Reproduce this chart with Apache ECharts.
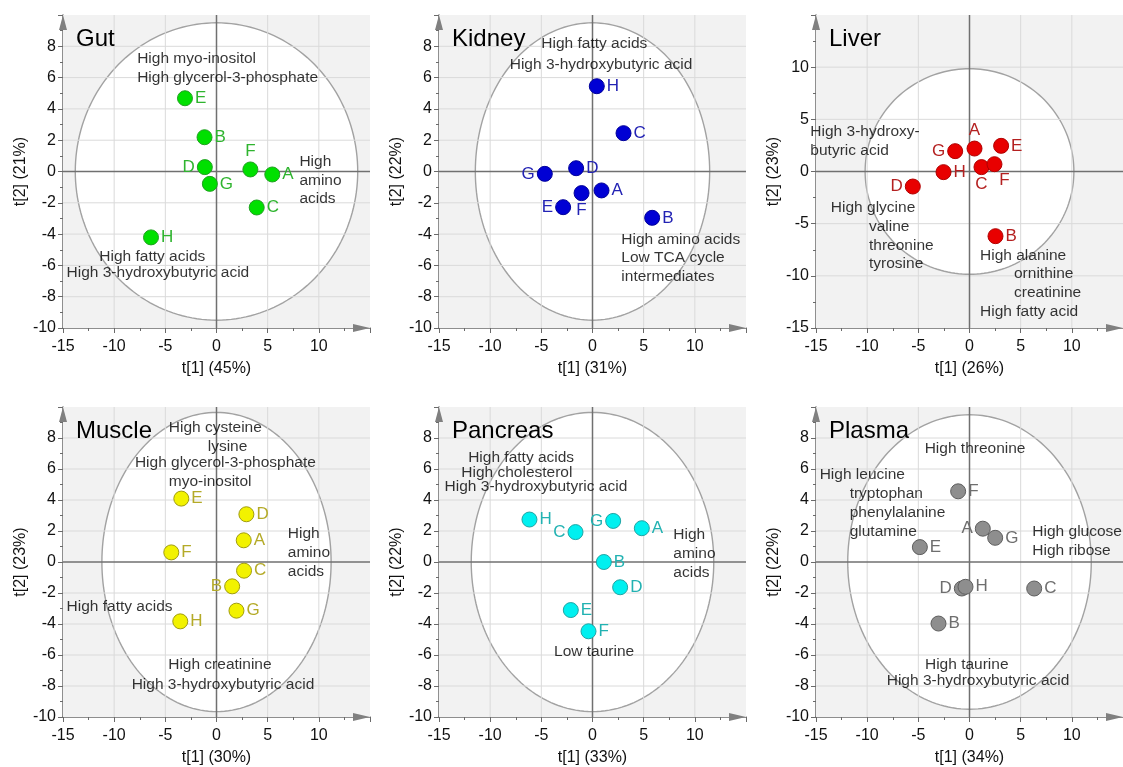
<!DOCTYPE html>
<html><head><meta charset="utf-8">
<script src="https://cdn.jsdelivr.net/npm/echarts@6/dist/echarts.min.js"></script>
<style>html,body{margin:0;padding:0;background:#fff}#c{width:1123px;height:767px}</style>
</head><body><div id="c"></div>
<script>
// ---------- DATA ----------
const panelNames = ['Gut', 'Kidney', 'Liver', 'Muscle', 'Pancreas', 'Plasma'];
const xAxisNames = ['t[1] (45%)', 't[1] (31%)', 't[1] (26%)', 't[1] (30%)', 't[1] (33%)', 't[1] (34%)'];
const yAxisNames = ['t[2] (21%)', 't[2] (22%)', 't[2] (23%)', 't[2] (23%)', 't[2] (22%)', 't[2] (22%)'];
const sampleLetters = ['A', 'B', 'C', 'D', 'E', 'F', 'G', 'H'];

const gutT1 = [5.45, -1.17, 3.93, -1.14, -3.08, 3.31, -0.65, -6.40];
const gutT2 = [-0.19, 2.19, -2.30, 0.28, 4.68, 0.13, -0.79, -4.21];
const kidneyT1 = [0.88, 5.83, 3.03, -1.60, -2.87, -1.07, -4.66, 0.42];
const kidneyT2 = [-1.21, -2.96, 2.45, 0.21, -2.28, -1.38, -0.15, 5.45];
const liverT1 = [0.49, 2.54, 1.17, -5.54, 3.09, 2.44, -1.40, -2.54];
const liverT2 = [2.20, -6.20, 0.42, -1.44, 2.46, 0.70, 1.95, -0.06];
const muscleT1 = [2.66, 1.53, 2.69, 2.92, -3.44, -4.42, 1.95, -3.54];
const muscleT2 = [1.40, -1.57, -0.56, 3.08, 4.09, 0.62, -3.14, -3.83];
const pancreasT1 = [4.82, 1.11, -1.66, 2.70, -2.12, -0.39, 2.02, -6.16];
const pancreasT2 = [2.18, 0.00, 1.93, -1.63, -3.10, -4.47, 2.65, 2.74];
const plasmaT1 = [1.30, -3.03, 6.32, -0.75, -4.85, -1.11, 2.51, -0.39];
const plasmaT2 = [2.15, -3.97, -1.71, -1.71, 0.96, 4.56, 1.56, -1.60];

// Hotelling T2 ellipse semi-axes (t1, t2)
const ellipseT1 = [13.8, 11.45, 10.2, 11.2, 11.85, 11.9];
const ellipseT2 = [9.5, 9.5, 9.85, 9.65, 9.65, 9.5];

// axis ranges / ticks
const xTickMin = [-15, -15, -15, -15, -15, -15];
const xTickMax = [15, 15, 15, 15, 15, 15];
const xTickStep = [5, 5, 5, 5, 5, 5];
const yTickMin = [-10, -10, -15, -10, -10, -10];
const yTickMax = [10, 10, 15, 10, 10, 10];
const yTickStep = [2, 2, 5, 2, 2, 2];

// annotation texts: [text, t1 anchor (left edge), t2 anchor]
const gutNotes = [['High myo-inositol', -7.8, 7.19], ['High glycerol-3-phosphate', -7.8, 5.98],
  ['High', 8.05, 0.64], ['amino', 8.05, -0.57], ['acids', 8.05, -1.77],
  ['High fatty acids', -11.5, -5.47], ['High 3-hydroxybutyric acid', -14.7, -6.47]];
const kidneyNotes = [['High fatty acids', -5.05, 8.15], ['High 3-hydroxybutyric acid', -8.14, 6.83],
  ['High amino acids', 2.77, -4.34], ['Low TCA cycle', 2.77, -5.53], ['intermediates', 2.77, -6.72]];
const liverNotes = [['High 3-hydroxy-', -15.6, 3.77], ['butyric acid', -15.6, 2.01],
  ['High glycine', -13.6, -3.48], ['valine', -9.87, -5.27], ['threonine', -9.87, -7.09], ['tyrosine', -9.87, -8.85],
  ['High alanine', 0.98, -8.05], ['ornithine', 4.3, -9.81], ['creatinine', 4.3, -11.63], ['High fatty acid', 0.98, -13.42]];
const muscleNotes = [['High cysteine', -4.71, 8.69], ['lysine', -0.91, 7.46], ['High glycerol-3-phosphate', -8.02, 6.43],
  ['myo-inositol', -4.71, 5.2], ['High', 6.92, 1.81], ['amino', 6.92, 0.62], ['acids', 6.92, -0.6],
  ['High fatty acids', -14.7, -2.86], ['High creatinine', -4.77, -6.6], ['High 3-hydroxybutyric acid', -8.34, -7.91]];
const pancreasNotes = [['High fatty acids', -12.2, 6.74], ['High cholesterol', -12.87, 5.78],
  ['High 3-hydroxybutyric acid', -14.5, 4.86], ['High', 7.85, 1.75], ['amino', 7.85, 0.53], ['acids', 7.85, -0.68],
  ['Low taurine', -3.81, -5.78]];
const plasmaNotes = [['High threonine', -4.43, 7.31], ['High leucine', -14.69, 5.61], ['tryptophan', -11.76, 4.39],
  ['phenylalanine', -11.76, 3.16], ['glutamine', -11.76, 1.98], ['High glucose', 6.09, 1.98], ['High ribose', 6.09, 0.75],
  ['High taurine', -4.4, -6.65], ['High 3-hydroxybutyric acid', -8.14, -7.68]];

// ---------- STYLE ----------
const FONT = 'Liberation Sans, Arial, sans-serif';
const fills = ['#00e000', '#0000d4', '#e80000', '#f2f200', '#00f0f0', '#8e8e8e'];
const borders = ['#20a020', '#00009a', '#b00000', '#a09c10', '#20a4a4', '#5e5e5e'];
const labelColors = ['#2fb42f', '#2323b4', '#b42020', '#b4aa28', '#22b2b2', '#6e6e6e'];
const labelSides = [
  ['r', 'r', 'r', 'l', 'r', 't', 'r', 'r'],
  ['r', 'r', 'r', 'r', 'l', 'b', 'l', 'r'],
  ['t', 'r', 'b', 'l', 'r', 'br', 'l', 'r'],
  ['r', 'l', 'r', 'r', 'r', 'r', 'r', 'r'],
  ['r', 'r', 'l', 'r', 'r', 'r', 'l', 'r'],
  ['l', 'r', 'r', 'l', 'r', 'r', 'r', 'r']
];
const gridLefts = [63, 439, 816, 63, 439, 816];
const gridTops = [15, 15, 15, 407, 407, 407];
const GW = 307, GH = 313;
const AXIS_COLOR = '#6a6a6a';

const t1Sets = [gutT1, kidneyT1, liverT1, muscleT1, pancreasT1, plasmaT1];
const t2Sets = [gutT2, kidneyT2, liverT2, muscleT2, pancreasT2, plasmaT2];
const noteSets = [gutNotes, kidneyNotes, liverNotes, muscleNotes, pancreasNotes, plasmaNotes];

function sideLabel(s) {
  switch (s) {
    case 'l': return { position: 'left', distance: 2 };
    case 't': return { position: 'top', distance: 2 };
    case 'b': return { position: 'bottom', distance: 1 };
    case 'br': return { position: 'bottom', distance: 1, offset: [10, -1] };
    default: return { position: 'right', distance: 2 };
  }
}

const grids = [], xAxes = [], yAxes = [], titles = [], series = [];
panelNames.forEach((name, i) => {
  grids.push({ left: gridLefts[i], top: gridTops[i], width: GW, height: GH, containLabel: false });
  titles.push({ text: name, left: gridLefts[i] + 8, top: gridTops[i] + 7,
    textStyle: { fontSize: 24, fontWeight: 'normal', color: '#000', fontFamily: FONT } });
  const axisCommon = {
    type: 'value',
    gridIndex: i,
    axisLine: { show: true, onZero: false, lineStyle: { color: AXIS_COLOR, width: 1.5 } },
    axisTick: { show: true, length: 5, lineStyle: { color: AXIS_COLOR, width: 1 } },
    minorTick: { show: true, splitNumber: 2, length: 3, lineStyle: { color: AXIS_COLOR, width: 1 } },
    splitLine: { show: false },
    axisLabel: { color: '#111', fontSize: 16, fontFamily: FONT, showMaxLabel: false },
    nameLocation: 'middle',
    nameTextStyle: { fontSize: 16, color: '#111', fontFamily: FONT }
  };
  xAxes.push(Object.assign({}, axisCommon, {
    min: xTickMin[i], max: xTickMax[i], interval: xTickStep[i], name: xAxisNames[i], nameGap: 33,
    axisLabel: Object.assign({}, axisCommon.axisLabel, { margin: 11 })
  }));
  yAxes.push(Object.assign({}, axisCommon, {
    min: yTickMin[i], max: yTickMax[i], interval: yTickStep[i], name: yAxisNames[i], nameGap: 27,
    axisLabel: Object.assign({}, axisCommon.axisLabel, { margin: 7 })
  }));

  // background, T2 ellipse, grid lines, zero lines
  series.push({
    type: 'custom', xAxisIndex: i, yAxisIndex: i, z: 1, silent: true,
    data: [[0, 0]],
    renderItem: function (params, api) {
      const cs = params.coordSys;
      const children = [];
      children.push({ type: 'rect', shape: { x: cs.x, y: cs.y, width: cs.width, height: cs.height },
        style: { fill: '#f2f2f2' } });
      const pts = [];
      for (let k = 0; k <= 180; k++) {
        const a = k / 180 * Math.PI * 2;
        pts.push(api.coord([ellipseT1[i] * Math.cos(a), ellipseT2[i] * Math.sin(a)]));
      }
      children.push({ type: 'polygon', shape: { points: pts },
        style: { fill: '#ffffff', stroke: '#a2a2a2', lineWidth: 1.4 } });
      for (let v = xTickMin[i] + xTickStep[i]; v < xTickMax[i]; v += xTickStep[i]) {
        if (Math.abs(v) < 1e-9) continue;
        const p1 = api.coord([v, yTickMin[i]]), p2 = api.coord([v, yTickMax[i]]);
        children.push({ type: 'line', shape: { x1: p1[0], y1: p1[1], x2: p2[0], y2: p2[1] },
          style: { stroke: '#dadada', lineWidth: 1 } });
      }
      for (let v = yTickMin[i] + yTickStep[i]; v < yTickMax[i]; v += yTickStep[i]) {
        if (Math.abs(v) < 1e-9) continue;
        const p1 = api.coord([xTickMin[i], v]), p2 = api.coord([xTickMax[i], v]);
        children.push({ type: 'line', shape: { x1: p1[0], y1: p1[1], x2: p2[0], y2: p2[1] },
          style: { stroke: '#dadada', lineWidth: 1 } });
      }
      const z1 = api.coord([0, yTickMin[i]]), z2 = api.coord([0, yTickMax[i]]);
      children.push({ type: 'line', shape: { x1: z1[0], y1: z1[1], x2: z2[0], y2: z2[1] },
        style: { stroke: '#707070', lineWidth: 1.5 } });
      const h1 = api.coord([xTickMin[i], 0]), h2 = api.coord([xTickMax[i], 0]);
      children.push({ type: 'line', shape: { x1: h1[0], y1: h1[1], x2: h2[0], y2: h2[1] },
        style: { stroke: '#707070', lineWidth: 1.5 } });
      // axis arrows
      const xl = cs.x, yb = cs.y + cs.height, xr = cs.x + cs.width, yt = cs.y;
      children.push({ type: 'polygon', shape: { points: [[xl, yt], [xl - 4, yt + 15], [xl + 4, yt + 15]] },
        style: { fill: '#808080' } });
      children.push({ type: 'polygon', shape: { points: [[xr, yb], [xr - 17, yb - 4], [xr - 17, yb + 4]] },
        style: { fill: '#808080' } });
      return { type: 'group', children: children };
    }
  });

  // samples
  series.push({
    type: 'scatter', xAxisIndex: i, yAxisIndex: i, z: 3, symbolSize: 15,
    itemStyle: { color: fills[i], borderColor: borders[i], borderWidth: 1, opacity: 1 },
    label: { show: true, formatter: '{b}', color: labelColors[i], fontSize: 17, fontFamily: FONT },
    data: sampleLetters.map((L, k) => ({
      name: L, value: [t1Sets[i][k], t2Sets[i][k]], label: sideLabel(labelSides[i][k])
    }))
  });

  // annotations
  series.push({
    type: 'scatter', xAxisIndex: i, yAxisIndex: i, z: 4, symbolSize: 1, clip: false, silent: true,
    itemStyle: { color: 'rgba(0,0,0,0)' },
    label: { show: true, position: 'right', distance: 0, formatter: '{b}', color: '#000', fontSize: 15.5, fontFamily: FONT },
    data: noteSets[i].map(n => ({ name: n[0], value: [n[1], n[2]] }))
  });
});

const chart = echarts.init(document.getElementById('c'), null, { renderer: 'canvas' });
chart.setOption({
  animation: false,
  backgroundColor: '#ffffff',
  textStyle: { fontFamily: FONT },
  title: titles,
  grid: grids,
  xAxis: xAxes,
  yAxis: yAxes,
  series: series
});
</script>
</body></html>
